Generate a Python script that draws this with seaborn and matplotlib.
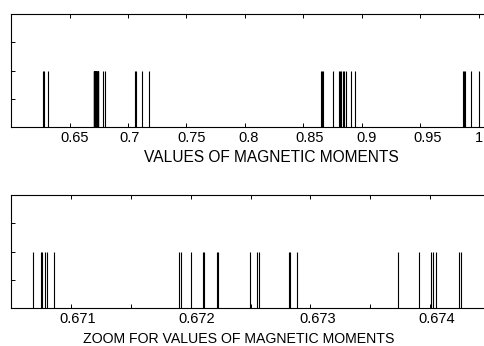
import numpy as np
import matplotlib
matplotlib.use("Agg")
import matplotlib.pyplot as plt
import matplotlib.transforms as mtransforms
import seaborn as sns

# Zoomed values of magnetic moments (bottom panel)
zoom_moments = [
    0.670681, 0.670752, 0.670760, 0.670785, 0.670798, 0.670856,
    0.671906, 0.671917, 0.672006, 0.672102, 0.672110, 0.672217, 0.672228,
    0.672498, 0.672556, 0.672568, 0.672820, 0.672833, 0.672892,
    0.673733, 0.673903, 0.674008, 0.674020, 0.674053, 0.674245, 0.674255,
]
# Other values of magnetic moments (top panel, together with zoom_moments)
other_moments = [
    0.6271, 0.6284, 0.6319, 0.6784, 0.6801,
    0.7057, 0.7068, 0.7120, 0.7177,
    0.8647, 0.8658, 0.8669, 0.8752, 0.8806, 0.8815, 0.8823, 0.8835, 0.8848,
    0.8863, 0.8906, 0.8940,
    0.9861, 0.9872, 0.9883, 0.9929, 0.9997,
]
all_moments = sorted(other_moments + zoom_moments)

top_ticks = [0.65, 0.70, 0.75, 0.80, 0.85, 0.90, 0.95, 1.00]
top_labels = ["0.65", "0.7", "0.75", "0.8", "0.85", "0.9", "0.95", "1"]
bottom_ticks = [0.671, 0.672, 0.673, 0.674]
bottom_labels = ["0.671", "0.672", "0.673", "0.674"]
bottom_minor = [0.6705, 0.6715, 0.6725, 0.6735, 0.6745]
y_ticks = [0, 0.25, 0.5, 0.75, 1.0]
stem_height = 0.5

sns.set_theme(style="white")
plt.rcParams["font.family"] = ["Liberation Sans", "DejaVu Sans"]

W, H = 485, 346
fig = plt.figure(figsize=(W / 100, H / 100), dpi=100)

def px_axes(left, top, right, bottom):
    return fig.add_axes([left / W, (H - bottom) / H, (right - left) / W, (bottom - top) / H])

ax1 = px_axes(11, 14, 490, 127)
ax2 = px_axes(11, 195, 490, 308.3)

def style(ax):
    for s in ax.spines.values():
        s.set_color("black")
        s.set_linewidth(0.8)
    ax.set_ylim(0, 1)
    ax.set_yticks(y_ticks)
    ax.set_yticklabels([])
    ax.tick_params(axis="both", which="both", direction="in", top=True, right=True,
                   bottom=True, left=True, length=3, width=0.7, color="black",
                   labelsize=10.5, pad=3, labelcolor="black")

def shift_labels(ax, offsets_px):
    for lab, dx in zip(ax.xaxis.get_majorticklabels(), offsets_px):
        off = mtransforms.ScaledTranslation(dx / 100, 0, fig.dpi_scale_trans)
        lab.set_transform(lab.get_transform() + off)

sns.rugplot(x=all_moments, height=stem_height, ax=ax1, color="black", linewidth=0.8, expand_margins=False)
ax1.set_xlim(0.6, 0.6 + 479 / 1170)
style(ax1)
ax1.set_xticks(top_ticks)
ax1.set_xticklabels(top_labels)
shift_labels(ax1, [5, 2, 5, 4, 6, 5, 7, 0])
ax1.set_xlabel("VALUES OF MAGNETIC MOMENTS", fontsize=11.2, color="black", ha="center", va="top")
ax1.xaxis.set_label_coords((271.7 - 11) / 479, -0.205)

sns.rugplot(x=zoom_moments, height=stem_height, ax=ax2, color="black", linewidth=0.8, expand_margins=False)
ax2.set_xlim(0.670506, 0.670506 + 479 / 120000)
style(ax2)
ax2.set_xticks(bottom_ticks)
ax2.set_xticklabels(bottom_labels)
ax2.set_xticks(bottom_minor, minor=True)
shift_labels(ax2, [6.5, 6.5, 7, 6.5])
ax2.set_xlabel("ZOOM FOR VALUES OF MAGNETIC MOMENTS", fontsize=10.2, color="black", ha="center", va="top")
ax2.xaxis.set_label_coords((239.2 - 11) / 479, -0.208)

fig.savefig("out.png", dpi=100, facecolor="white")
